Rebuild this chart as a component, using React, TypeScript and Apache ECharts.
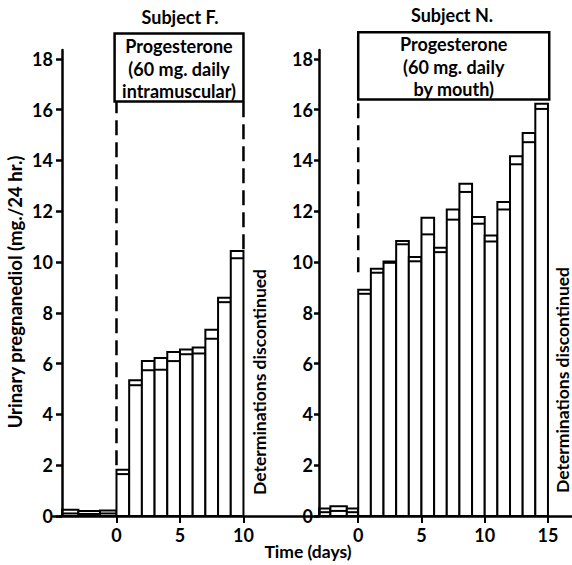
import React, { useEffect, useRef } from "react";
import * as echarts from "echarts";

// Subject F. (intramuscular) — bar start day, end day, lower line, upper (bar top)
const fDayStart = [-4.29, -3, -1.3, 0, 1, 2, 3, 4, 5, 6, 7, 8, 9];
const fDayEnd = [-3, -1.3, 0, 1, 2, 3, 4, 5, 6, 7, 8, 9, 10];
const fLower = [0.1, 0.08, 0.1, 1.65, 5.15, 5.74, 5.76, 6.1, 6.37, 6.4, 6.98, 8.42, 10.15];
const fUpper = [0.25, 0.2, 0.22, 1.82, 5.35, 6.1, 6.22, 6.46, 6.56, 6.64, 7.33, 8.59, 10.44];

// Subject N. (by mouth)
const nDayStart = [-3.1, -2.2, -0.9, 0, 1, 2, 3, 4, 5, 6, 7, 8, 9, 10, 11, 12, 13, 14];
const nDayEnd = [-2.2, -0.9, 0, 1, 2, 3, 4, 5, 6, 7, 8, 9, 10, 11, 12, 13, 14, 15];
const nLower = [0.15, 0.2, 0.15, 8.75, 9.58, 9.97, 10.7, 10.03, 11.09, 10.39, 11.67, 12.76, 11.51, 10.81, 12.07, 13.85, 14.72, 16.03];
const nUpper = [0.3, 0.38, 0.3, 8.91, 9.74, 10.02, 10.83, 10.2, 11.74, 10.56, 12.07, 13.08, 11.77, 11.05, 12.36, 14.17, 15.08, 16.23];

const yTicks = [0, 2, 4, 6, 8, 10, 12, 14, 16, 18];
const fXTicks = [0, 5, 10];
const nXTicks = [0, 5, 10, 15];

// treatment boxes: [x0, x1, yBottom, yTop]
const fBox = [-0.15, 10, 16.32, 19.0];
const nBox = [0, 15.1, 16.4, 19.05];
const fBoxText = ["Progesterone", "(60 mg. daily", "intramuscular)"];
const nBoxText = ["Progesterone", "(60 mg. daily", "by mouth)"];

// dashed lines: [x, yFrom, yTo]
const fDashes = [[0, 2.0, 16.32], [10, 10.5, 16.32]];
const nDashes = [[0, 9.6, 16.4]];

const FONT = "Lato";

function buildBars(s: number[], e: number[], lo: number[], hi: number[]) {
  return s.map((v, i) => [v, e[i], lo[i], hi[i]]);
}

const barRender = (params: any, api: any) => {
  const x0 = api.value(0), x1 = api.value(1), lo = api.value(2), hi = api.value(3);
  const pb = api.coord([x0, 0]);
  const pt = api.coord([x1, hi]);
  const pl = api.coord([x0, lo]);
  return {
    type: "group",
    children: [
      {
        type: "rect",
        shape: { x: pb[0], y: pt[1], width: pt[0] - pb[0], height: pb[1] - pt[1] },
        style: { fill: "#fff", stroke: "#000", lineWidth: 2 },
      },
      {
        type: "line",
        shape: { x1: pb[0], y1: pl[1], x2: pt[0], y2: pl[1] },
        style: { stroke: "#000", lineWidth: 2 },
      },
    ],
  };
};

const dashRender = (params: any, api: any) => {
  const x = api.value(0), y0 = api.value(1), y1 = api.value(2);
  const a = api.coord([x, y0]);
  const b = api.coord([x, y1]);
  return {
    type: "line",
    shape: { x1: a[0], y1: a[1], x2: b[0], y2: b[1] },
    style: { stroke: "#000", lineWidth: 2.5, lineDash: [15, 7] },
  };
};

const makeBoxRender = (lines: string[]) => (params: any, api: any) => {
  const x0 = api.value(0), x1 = api.value(1), y0 = api.value(2), y1 = api.value(3);
  const a = api.coord([x0, y0]);
  const b = api.coord([x1, y1]);
  return {
    type: "group",
    children: [
      {
        type: "rect",
        shape: { x: a[0], y: b[1], width: b[0] - a[0], height: a[1] - b[1] },
        style: { fill: "#fff", stroke: "#000", lineWidth: 2.5 },
      },
      {
        type: "text",
        x: (a[0] + b[0]) / 2,
        y: (a[1] + b[1]) / 2 + 1,
        style: {
          text: lines.join("\n"),
          fontFamily: FONT,
          fontSize: 18,
          fontWeight: "bold",
          lineHeight: 22.5,
          fill: "#000",
          align: "center",
          verticalAlign: "middle",
        },
      },
    ],
  };
};

const textStyle = (text: string, size: number) => ({
  text,
  fontFamily: FONT,
  fontSize: size,
  fontWeight: "bold",
  fill: "#000",
  align: "center",
  verticalAlign: "middle",
});

export default function App() {
  const ref = useRef<HTMLDivElement>(null);
  useEffect(() => {
    if (!ref.current) return;
    const chart = echarts.init(ref.current, null, { renderer: "svg" });
    const yAxisCommon = {
      type: "value",
      min: 0,
      max: 18.35,
      z: 10,
      splitLine: { show: false },
      axisLine: { show: true, onZero: false, lineStyle: { color: "#000", width: 2.5 } },
      axisTick: { show: true, length: 6, lineStyle: { color: "#000", width: 2.5 }, customValues: yTicks },
      axisLabel: { customValues: yTicks, fontFamily: FONT, fontSize: 18, fontWeight: "bold", color: "#000" },
    };
    const xAxisCommon = {
      type: "value",
      z: 10,
      splitLine: { show: false },
      axisLine: { show: true, onZero: false, lineStyle: { color: "#000", width: 2.5 } },
      axisLabel: { fontFamily: FONT, fontSize: 18, fontWeight: "bold", color: "#000", margin: 10 },
    };
    chart.setOption({
      animation: false,
      backgroundColor: "#fff",
      grid: [
        { left: 53, top: 50, width: 265, height: 466 },
        { left: 319, top: 50, width: 253, height: 466 },
      ],
      xAxis: [
        {
          ...xAxisCommon,
          gridIndex: 0,
          min: -5.0,
          max: 15.87,
          axisTick: { show: true, length: 7, lineStyle: { color: "#000", width: 2 }, customValues: fXTicks },
          axisLabel: { ...xAxisCommon.axisLabel, customValues: fXTicks },
        },
        {
          ...xAxisCommon,
          gridIndex: 1,
          min: -3.1,
          max: 16.9,
          axisTick: { show: true, length: 7, lineStyle: { color: "#000", width: 2 }, customValues: nXTicks },
          axisLabel: { ...xAxisCommon.axisLabel, customValues: nXTicks },
        },
      ],
      yAxis: [
        { ...yAxisCommon, gridIndex: 0, offset: -9, axisLabel: { ...yAxisCommon.axisLabel, margin: 9 } },
        { ...yAxisCommon, gridIndex: 1, axisLabel: { ...yAxisCommon.axisLabel, margin: 6 }, axisTick: { ...yAxisCommon.axisTick, length: 5 } },
      ],
      series: [
        {
          type: "custom",
          name: "Subject F.",
          xAxisIndex: 0,
          yAxisIndex: 0,
          clip: false,
          renderItem: barRender,
          data: buildBars(fDayStart, fDayEnd, fLower, fUpper),
        },
        {
          type: "custom",
          name: "Subject N.",
          xAxisIndex: 1,
          yAxisIndex: 1,
          clip: false,
          renderItem: barRender,
          data: buildBars(nDayStart, nDayEnd, nLower, nUpper),
        },
        { type: "custom", xAxisIndex: 0, yAxisIndex: 0, clip: false, renderItem: dashRender, data: fDashes },
        { type: "custom", xAxisIndex: 1, yAxisIndex: 1, clip: false, renderItem: dashRender, data: nDashes },
        { type: "custom", xAxisIndex: 0, yAxisIndex: 0, clip: false, renderItem: makeBoxRender(fBoxText), data: [fBox] },
        { type: "custom", xAxisIndex: 1, yAxisIndex: 1, clip: false, renderItem: makeBoxRender(nBoxText), data: [nBox] },
      ],
      graphic: [
        { type: "text", x: 180, y: 17, style: textStyle("Subject F.", 18) },
        { type: "text", x: 452, y: 15, style: textStyle("Subject N.", 18) },
        { type: "text", x: 308, y: 551, style: textStyle("Time (days)", 17.5) },
        { type: "text", x: 15, y: 292, rotation: Math.PI / 2, style: textStyle("Urinary pregnanediol (mg./24 hr.)", 18.5) },
        { type: "text", x: 259, y: 382, rotation: Math.PI / 2, style: textStyle("Determinations discontinued", 17.5) },
        { type: "text", x: 562, y: 380, rotation: Math.PI / 2, style: textStyle("Determinations discontinued", 17.5) },
      ],
    });
    return () => chart.dispose();
  }, []);
  return (
    <div
      ref={ref}
      style={{ position: "fixed", left: 0, top: 0, width: 572, height: 565, background: "#fff" }}
    />
  );
}
